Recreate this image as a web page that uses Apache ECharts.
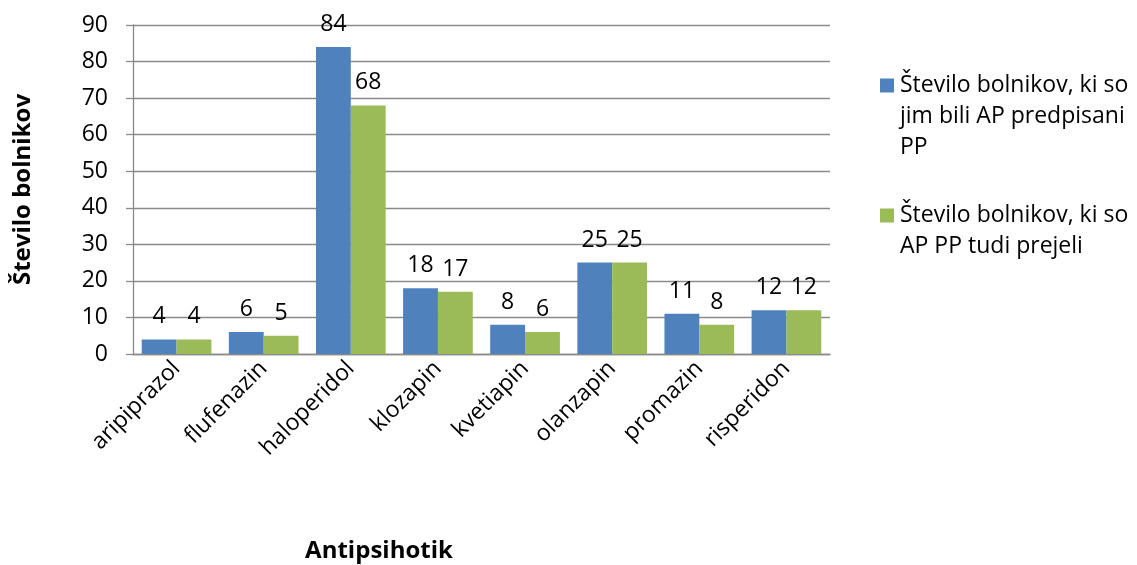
<!DOCTYPE html>
<html>
<head>
<meta charset="utf-8">
<script src="https://cdn.jsdelivr.net/npm/echarts@6/dist/echarts.min.js"></script>
<style>html,body{margin:0;padding:0;background:#fff}#c{width:1137px;height:565px}</style>
</head>
<body>
<div id="c"></div>
<script>
const categories = ['aripiprazol','flufenazin','haloperidol','klozapin','kvetiapin','olanzapin','promazin','risperidon'];
const prescribed = [4, 6, 84, 18, 8, 25, 11, 12];
const received = [4, 5, 68, 17, 6, 25, 8, 12];
const seriesNames = ['Število bolnikov, ki so jim bili AP predpisani PP', 'Število bolnikov, ki so AP PP tudi prejeli'];
const legendLines = [['Število bolnikov, ki so','jim bili AP predpisani','PP'], ['Število bolnikov, ki so','AP PP tudi prejeli']];
const yTicks = {min: 0, max: 90, interval: 10};
const yName = 'Število bolnikov';
const xName = 'Antipsihotik';

const FONT = '"Open Sans", sans-serif';
const FS = 23;
const LH = 31;
const gridColor = '#8a8a8a';

function legendIcon(lines) {
  const h = lines * LH;
  return 'path://M0,0L0.01,0M0,8.5L14,8.5L14,22.5L0,22.5ZM0,' + h + 'L0.01,' + h;
}

const chart = echarts.init(document.getElementById('c'));
chart.setOption({
  animation: false,
  textStyle: {fontFamily: FONT},
  grid: {left: 133, right: 307, top: 25, bottom: 211, containLabel: false},
  legend: [0, 1].map(i => ({
    data: [seriesNames[i]],
    orient: 'vertical',
    left: 880,
    top: i === 0 ? 70 : 200,
    padding: 0,
    itemWidth: 14,
    itemHeight: legendLines[i].length * LH,
    icon: legendIcon(legendLines[i].length),
    selectedMode: false,
    formatter: () => legendLines[i].join('\n'),
    textStyle: {fontFamily: FONT, fontSize: FS, color: '#000', lineHeight: LH, padding: [0, 0, 0, 1]}
  })),
  xAxis: {
    type: 'category',
    data: categories,
    axisLine: {lineStyle: {color: gridColor, width: 1.3}},
    axisTick: {show: false},
    axisLabel: {rotate: 45, margin: 11, fontSize: FS, color: '#000', fontFamily: FONT, interval: 0}
  },
  yAxis: {
    type: 'value',
    min: yTicks.min, max: yTicks.max, interval: yTicks.interval,
    name: yName,
    nameLocation: 'middle',
    nameGap: 98,
    nameTextStyle: {fontSize: 24, fontWeight: 'bold', color: '#000', fontFamily: FONT},
    axisLine: {show: true, lineStyle: {color: gridColor, width: 1.3}},
    axisTick: {show: true, length: 7, lineStyle: {color: gridColor, width: 1.3}},
    splitLine: {lineStyle: {color: gridColor, width: 1.3}},
    axisLabel: {margin: 25, fontSize: FS, color: '#000', fontFamily: FONT}
  },
  graphic: [{
    type: 'text', x: 379, y: 551,
    style: {text: xName, fontSize: 24, fontWeight: 'bold', fill: '#000', fontFamily: FONT, textAlign: 'center', textVerticalAlign: 'middle'}
  }],
  series: [
    {name: seriesNames[0], type: 'bar', data: prescribed, barGap: '0%', barCategoryGap: '20%',
     itemStyle: {color: '#4F81BD'},
     label: {show: true, position: 'top', distance: 11, fontSize: FS, color: '#000', fontFamily: FONT}},
    {name: seriesNames[1], type: 'bar', data: received, barGap: '0%', barCategoryGap: '20%',
     itemStyle: {color: '#9BBB59'},
     label: {show: true, position: 'top', distance: 11, fontSize: FS, color: '#000', fontFamily: FONT}}
  ]
});
</script>
</body>
</html>
